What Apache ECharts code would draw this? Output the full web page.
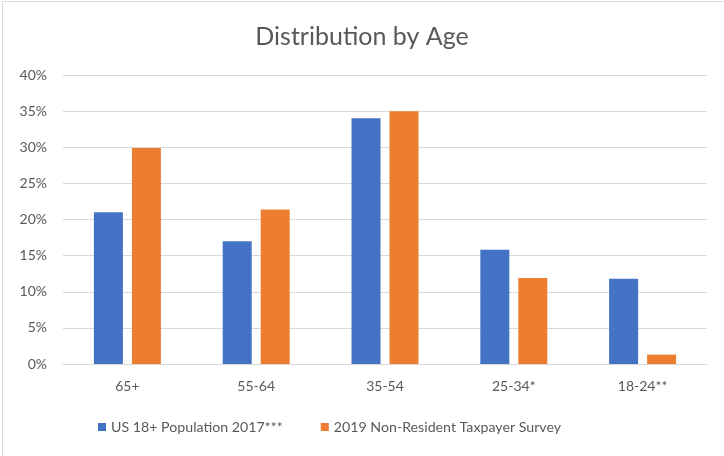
<!DOCTYPE html>
<html>
<head>
<meta charset="utf-8">
<script src="https://cdn.jsdelivr.net/npm/echarts@6/dist/echarts.min.js"></script>
<style>
  html, body { margin: 0; padding: 0; background: #fff; }
  #chart { width: 724px; height: 456px; }
</style>
</head>
<body>
<div id="chart"></div>
<script>
// categories and values (percent)
const ageGroups = ['65+', '55-64', '35-54', '25-34*', '18-24**'];
const usPopulation = [21.0, 17.0, 34.0, 15.8, 11.8];
const taxpayerSurvey = [29.9, 21.4, 35.0, 11.9, 1.3];
const seriesNames = ['US 18+ Population 2017***', '2019 Non-Resident Taxpayer Survey'];

const font = 'Lato, "Open Sans", sans-serif';
const grey = '#595959';

const myChart = echarts.init(document.getElementById('chart'));
myChart.setOption({
  animation: false,
  color: ['#4472c4', '#ed7d31'],
  graphic: [{
    type: 'rect',
    shape: { x: 2.5, y: 1.5, width: 740, height: 470 },
    style: { fill: 'none', stroke: '#d9d9d9', lineWidth: 1 }
  }],
  title: {
    text: 'Distribution by Age',
    left: 'center',
    top: 19,
    textStyle: { fontFamily: font, fontSize: 25, fontWeight: 'normal', color: grey }
  },
  legend: {
    bottom: 17,
    left: 93,
    itemWidth: 8,
    itemHeight: 8,
    itemGap: 38,
    icon: 'rect',
    textStyle: { fontFamily: font, fontSize: 14.2, color: grey }
  },
  grid: { left: 63, right: 17, top: 75, bottom: 92, containLabel: false },
  xAxis: {
    type: 'category',
    data: ageGroups,
    axisLine: { lineStyle: { color: '#d9d9d9', width: 1 } },
    axisTick: { show: false },
    axisLabel: { fontFamily: font, fontSize: 14, color: grey, margin: 15 }
  },
  yAxis: {
    type: 'value',
    min: 0,
    max: 40,
    interval: 5,
    axisLine: { show: false },
    axisTick: { show: false },
    splitLine: { lineStyle: { color: '#d9d9d9', width: 1 } },
    axisLabel: { fontFamily: font, fontSize: 14, color: grey, margin: 16, formatter: '{value}%' }
  },
  series: [
    { name: seriesNames[0], type: 'bar', data: usPopulation, barWidth: 29, barGap: '31%' },
    { name: seriesNames[1], type: 'bar', data: taxpayerSurvey, barWidth: 29, barGap: '31%' }
  ]
});
</script>
</body>
</html>
